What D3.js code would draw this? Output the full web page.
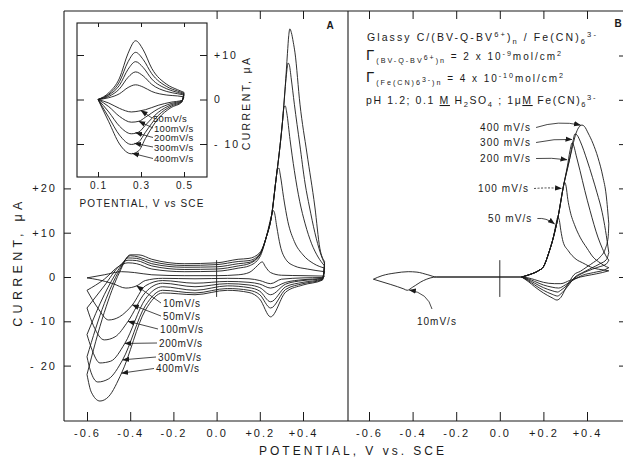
<!DOCTYPE html>
<html>
<head>
<meta charset="utf-8">
<script src="https://cdn.jsdelivr.net/npm/d3@7"></script>
<style>
  body { margin: 0; background: #fff; }
  text { font-family: "Liberation Sans", Arial, sans-serif; fill: #1a1a1a; }
</style>
</head>
<body>
<svg id="chart" width="623" height="458"></svg>
<script>
// ---- data: [potential V, current uA] ----
const ratesA = ["10mV/s", "50mV/s", "100mV/s", "200mV/s", "300mV/s", "400mV/s"];
const anodicA = [
  [[-0.6,-0.2],[-0.52,0.5],[-0.44,1.2],[-0.38,1.0],[-0.3,0.5],[-0.15,0.3],[0.0,0.3],[0.1,0.5],[0.15,1.0],[0.19,2.6],[0.205,3.3],[0.212,3.4],[0.225,2.4],[0.25,1.0],[0.3,0.4],[0.4,0.3],[0.5,0.2]],
  [[-0.6,-3],[-0.52,-0.5],[-0.45,2.5],[-0.41,3.2],[-0.37,3.0],[-0.3,1.8],[-0.15,1.2],[0.0,1.3],[0.1,2.0],[0.15,2.5],[0.2,4.5],[0.23,9],[0.255,14],[0.262,15],[0.268,14.5],[0.278,11.5],[0.295,7],[0.32,4],[0.36,2.5],[0.42,1.8],[0.5,1.2]],
  [[-0.6,-7],[-0.52,-2],[-0.45,2.5],[-0.41,3.8],[-0.37,3.7],[-0.3,2.5],[-0.15,1.7],[0.0,1.8],[0.1,2.5],[0.15,3],[0.2,5],[0.23,9],[0.255,14],[0.275,22],[0.282,24.4],[0.288,24.6],[0.295,23],[0.31,18],[0.33,12.5],[0.36,8],[0.4,5],[0.45,3],[0.5,2]],
  [[-0.6,-13],[-0.52,-4],[-0.45,2],[-0.41,4.3],[-0.37,4.2],[-0.3,3],[-0.15,2.2],[0.0,2.3],[0.1,3],[0.15,3.3],[0.2,5],[0.23,9],[0.255,14],[0.275,22],[0.29,28],[0.305,35],[0.312,38.3],[0.318,38.6],[0.325,37],[0.34,31],[0.36,24],[0.385,17],[0.41,12],[0.44,7.5],[0.47,4.5],[0.5,2.5]],
  [[-0.6,-18],[-0.52,-6],[-0.45,1.5],[-0.4,4.8],[-0.36,4.5],[-0.3,3.5],[-0.15,2.6],[0.0,2.8],[0.1,3.5],[0.15,3.7],[0.2,5.2],[0.23,9],[0.255,14],[0.275,22],[0.29,28],[0.305,35],[0.318,43],[0.325,46.5],[0.331,48.3],[0.337,47.8],[0.345,45],[0.36,39],[0.385,30],[0.41,21],[0.43,15.8],[0.455,10],[0.48,5.5],[0.5,3]],
  [[-0.6,-22],[-0.52,-8],[-0.45,1],[-0.4,5],[-0.36,5],[-0.3,4],[-0.15,3],[0.0,3.2],[0.1,4],[0.15,4.2],[0.2,5.5],[0.23,9],[0.255,14],[0.275,22],[0.29,28],[0.305,35],[0.318,43],[0.328,50.5],[0.334,54.5],[0.339,56],[0.346,55.2],[0.355,53],[0.363,50.6],[0.386,39],[0.418,28],[0.455,15.8],[0.478,6.5],[0.5,3.5]]
];
const cathodicA = [
  [[0.5,0.2],[0.49,-0.1],[0.4,-0.2],[0.3,-0.5],[0.25,-1.5],[0.2,-0.8],[0.15,-0.4],[0.05,-0.3],[-0.1,-0.4],[-0.25,-0.3],[-0.33,-0.8],[-0.37,-2.0],[-0.42,-2.5],[-0.48,-1.5],[-0.55,-0.6],[-0.6,-0.2]],
  [[0.5,1.2],[0.49,-0.3],[0.4,-0.6],[0.32,-1.2],[0.25,-2.5],[0.2,-1.6],[0.15,-1.2],[0.05,-1],[-0.1,-1.4],[-0.25,-0.8],[-0.33,-2],[-0.39,-6.3],[-0.45,-9],[-0.5,-9.7],[-0.55,-7],[-0.6,-3]],
  [[0.5,2],[0.49,-0.4],[0.4,-0.8],[0.32,-1.6],[0.25,-4],[0.2,-2.4],[0.15,-1.8],[0.05,-1.5],[-0.1,-2.2],[-0.25,-1.4],[-0.33,-3.5],[-0.41,-10],[-0.47,-13.5],[-0.52,-14.2],[-0.57,-11],[-0.6,-7]],
  [[0.5,2.5],[0.49,-0.5],[0.4,-1.2],[0.32,-2.2],[0.25,-5.6],[0.2,-3.2],[0.15,-2.4],[0.05,-2],[-0.1,-3],[-0.25,-2.2],[-0.33,-5],[-0.425,-15],[-0.49,-19],[-0.54,-19.4],[-0.58,-16],[-0.6,-13]],
  [[0.5,3],[0.49,-0.6],[0.4,-1.5],[0.32,-2.8],[0.25,-7],[0.2,-4],[0.15,-3],[0.05,-2.6],[-0.1,-3.6],[-0.25,-3],[-0.33,-6.5],[-0.435,-18.7],[-0.5,-23],[-0.55,-23.7],[-0.585,-21],[-0.6,-18]],
  [[0.5,3.5],[0.49,-0.7],[0.4,-1.8],[0.32,-3.4],[0.25,-9],[0.2,-5],[0.15,-3.5],[0.05,-3],[-0.1,-4],[-0.25,-3.6],[-0.33,-7.5],[-0.44,-21.7],[-0.5,-27],[-0.54,-28],[-0.58,-26],[-0.6,-22]]
];
const arrowVA = [-0.37, -0.39, -0.41, -0.425, -0.435, -0.44];

const ratesInset = ["50mV/s", "100mV/s", "200mV/s", "300mV/s", "400mV/s"];
const anodicInset = [
  [[0.1,0],[0.15,0.4],[0.2,1.3],[0.24,2.7],[0.275,3.3],[0.31,2.8],[0.35,1.8],[0.42,1],[0.47,0.8],[0.5,0.6]],
  [[0.1,0],[0.15,0.7],[0.2,2.4],[0.24,5],[0.275,6.2],[0.31,5.3],[0.35,3.4],[0.42,1.8],[0.47,1.3],[0.5,1]],
  [[0.1,0],[0.15,1],[0.2,3.2],[0.24,6.8],[0.275,8.5],[0.31,7.2],[0.35,4.6],[0.42,2.4],[0.47,1.6],[0.5,1.2]],
  [[0.1,0],[0.15,1.2],[0.2,4],[0.24,8.5],[0.275,10.6],[0.31,9],[0.35,5.8],[0.42,2.9],[0.47,1.9],[0.5,1.4]],
  [[0.1,0],[0.15,1.5],[0.2,4.8],[0.24,10.4],[0.275,13.2],[0.31,11.2],[0.35,7],[0.42,3.4],[0.47,2.2],[0.5,1.6]]
];
const cathodicInset = [
  [[0.5,0.6],[0.49,-0.2],[0.44,-0.6],[0.38,-1.3],[0.32,-2.3],[0.29,-2.6],[0.255,-2.8],[0.2,-2],[0.15,-0.8],[0.1,0]],
  [[0.5,1],[0.49,-0.3],[0.44,-0.9],[0.38,-2.1],[0.32,-4],[0.29,-4.9],[0.255,-5.1],[0.2,-3.8],[0.15,-1.6],[0.1,0]],
  [[0.5,1.2],[0.49,-0.4],[0.44,-1.2],[0.38,-2.9],[0.32,-5.8],[0.29,-7.3],[0.255,-7.7],[0.2,-6],[0.15,-2.8],[0.1,0]],
  [[0.5,1.4],[0.49,-0.5],[0.44,-1.5],[0.38,-3.6],[0.32,-7.4],[0.29,-9.5],[0.255,-10.1],[0.2,-8],[0.15,-4],[0.1,0]],
  [[0.5,1.6],[0.49,-0.6],[0.44,-1.8],[0.38,-4.3],[0.32,-8.8],[0.29,-11.5],[0.255,-12.2],[0.2,-10],[0.15,-5],[0.1,0]]
];
const arrowVInset = [0.30, 0.29, 0.275, 0.27, 0.26];

const ratesB = ["50 mV/s", "100 mV/s", "200 mV/s", "300 mV/s", "400 mV/s"];
const slowB = [[-0.58,-0.5],[-0.54,0.3],[-0.48,0.9],[-0.42,1.2],[-0.38,1.1],[-0.33,0.5],[-0.29,0],[0.1,0]];
const slowBback = [[0.1,0],[-0.29,0],[-0.35,-0.8],[-0.4,-2.3],[-0.425,-3],[-0.44,-2.7],[-0.5,-1.7],[-0.58,-0.5]];
const anodicB = [
  [[0.1,0],[0.14,0.6],[0.18,1.5],[0.2,2.3],[0.225,5.5],[0.246,9],[0.258,12],[0.266,13.5],[0.273,12.8],[0.28,10.5],[0.29,8],[0.313,6],[0.35,4],[0.38,3.2],[0.43,2],[0.475,1.6],[0.5,1.4]],
  [[0.1,0],[0.14,0.6],[0.18,1.5],[0.2,2.3],[0.225,5.5],[0.246,9],[0.267,13.5],[0.28,17],[0.29,20],[0.297,21.4],[0.304,20.5],[0.312,17.5],[0.322,15],[0.345,11.5],[0.368,9],[0.4,6.5],[0.428,4.5],[0.46,3.2],[0.49,2.3],[0.5,2.1]],
  [[0.1,0],[0.14,0.6],[0.18,1.5],[0.2,2.3],[0.225,5.5],[0.246,9],[0.267,13.5],[0.29,20],[0.31,25],[0.322,28.5],[0.332,30.3],[0.34,29.5],[0.35,27.5],[0.368,24],[0.39,19.5],[0.414,15],[0.45,9],[0.47,6.5],[0.49,4.5],[0.5,3.8]],
  [[0.1,0],[0.14,0.6],[0.18,1.5],[0.2,2.3],[0.225,5.5],[0.246,9],[0.267,13.5],[0.29,20],[0.322,27],[0.335,30.5],[0.345,32.3],[0.355,32],[0.37,30.5],[0.4,26.4],[0.425,22.5],[0.446,19],[0.47,14.5],[0.485,10.5],[0.5,5.5]],
  [[0.1,0],[0.14,0.6],[0.18,1.5],[0.2,2.3],[0.225,5.5],[0.246,9],[0.267,13.5],[0.29,20],[0.322,27],[0.354,33],[0.368,34.1],[0.377,34.3],[0.388,34],[0.405,32.5],[0.427,30.2],[0.45,27],[0.473,22.6],[0.488,18.5],[0.5,12]]
];
const cathodicB = [
  [[0.5,1.4],[0.47,1],[0.42,0.5],[0.37,0],[0.32,-0.8],[0.28,-1.5],[0.25,-1.5],[0.2,-1.2],[0.16,-0.6],[0.13,-0.2],[0.1,0]],
  [[0.5,2.1],[0.48,1.6],[0.43,1],[0.38,0.4],[0.34,-0.6],[0.3,-1.8],[0.27,-2.5],[0.24,-2.3],[0.2,-1.8],[0.16,-1],[0.13,-0.4],[0.1,0]],
  [[0.5,3.8],[0.49,3],[0.45,2.2],[0.4,1.3],[0.35,0],[0.31,-1.8],[0.28,-3],[0.265,-3.4],[0.24,-3.1],[0.2,-2.4],[0.16,-1.4],[0.13,-0.6],[0.1,0]],
  [[0.5,5.5],[0.49,4],[0.46,3],[0.42,2],[0.38,1],[0.345,0],[0.31,-2.2],[0.28,-3.8],[0.265,-4.3],[0.24,-3.9],[0.2,-3],[0.16,-1.8],[0.13,-0.8],[0.1,0]],
  [[0.5,12],[0.497,9],[0.485,6.5],[0.46,4.5],[0.43,3.3],[0.4,2.3],[0.37,1.3],[0.34,0.5],[0.32,-1],[0.3,-2.8],[0.28,-4.6],[0.262,-5.2],[0.24,-4.7],[0.2,-3.6],[0.16,-2.2],[0.13,-1],[0.1,0]]
];
const arrowVB = [0.258, 0.29, 0.315, 0.338, 0.377];

const ticksX = [-0.6, -0.4, -0.2, 0.0, 0.2, 0.4];
const ticksY = [-20, -10, 0, 10, 20];
const ticksYRight = [-20, -10, 0, 10, 20, 30, 40, 50];
const ticksInsetX = [0.1, 0.3, 0.5];
const ticksInsetY = [-10, 0, 10];
const zeroMark = [-4.5, 3.8];

// ---- scales ----
const xA = d3.scaleLinear().domain([-0.6, 0.4]).range([87, 303]);
const xB = d3.scaleLinear().domain([-0.6, 0.4]).range([369, 587]);
const y = d3.scaleLinear().domain([0, 10]).range([277, 232.7]);
const xI = d3.scaleLinear().domain([0.1, 0.5]).range([98, 184]);
const yI = d3.scaleLinear().domain([0, 10]).range([99.5, 55]);

const svg = d3.select("#chart");
const ink = "#1a1a1a";

const defs = svg.append("defs");
defs.append("marker").attr("id", "tri")
  .attr("viewBox", "0 -3 7 6").attr("refX", 6.5).attr("refY", 0)
  .attr("markerWidth", 7).attr("markerHeight", 6)
  .attr("markerUnits", "userSpaceOnUse").attr("orient", "auto")
  .append("path").attr("d", "M0,-2.6L7,0L0,2.6Z").attr("fill", ink);

function sorted(pts) { return pts.slice().sort((p, q) => p[0] - q[0]); }
function valueAt(pts, v) {
  const s = sorted(pts);
  for (let i = 1; i < s.length; i++) {
    if (v <= s[i][0]) {
      const t = (v - s[i-1][0]) / (s[i][0] - s[i-1][0]);
      return s[i-1][1] + t * (s[i][1] - s[i-1][1]);
    }
  }
  return s[s.length - 1][1];
}
function drawBranch(g, pts, sx, sy) {
  const line = d3.line().x(d => sx(d[0])).y(d => sy(d[1])).curve(d3.curveMonotoneX);
  g.append("path").attr("d", line(sorted(pts)))
    .attr("fill", "none").attr("stroke", ink).attr("stroke-width", 0.9);
}
function styleAxis(g, size) {
  g.select(".domain").remove();
  g.selectAll("line").attr("stroke", ink).attr("stroke-width", 1);
  g.selectAll("text").attr("font-family", '"Liberation Sans", Arial, sans-serif')
    .attr("font-size", size).attr("letter-spacing", size > 10 ? 2 : 1).attr("fill", ink);
}
// spread a text line to a given width, like the wide lettering of the original
function fitWidth(t, width) {
  t.attr("letter-spacing", 0);
  const n = t.text().length;
  const w = t.node().getComputedTextLength();
  t.attr("letter-spacing", Math.max(0, (width - w) / n));
}
const fmtX = v => v > 0 ? "+" + v.toFixed(1) : v < 0 ? "-" + (-v).toFixed(1) : "0.0";
const fmtY = v => v > 0 ? "+" + v : v < 0 ? "- " + (-v) : "0";

// ---- frame ----
const frame = svg.append("g").attr("stroke", ink).attr("stroke-width", 1.1);
frame.append("line").attr("x1", 64).attr("x2", 623).attr("y1", 11).attr("y2", 11);
frame.append("line").attr("x1", 64).attr("x2", 623).attr("y1", 421).attr("y2", 421);
frame.append("line").attr("x1", 64).attr("x2", 64).attr("y1", 11).attr("y2", 421);
frame.append("line").attr("x1", 348).attr("x2", 348).attr("y1", 11).attr("y2", 421);

// bottom axes
svg.append("g").attr("transform", "translate(0,421)")
  .call(d3.axisBottom(xA).tickValues(ticksX).tickSize(-9).tickPadding(8).tickFormat(fmtX))
  .call(g => styleAxis(g, 11));
svg.append("g").attr("transform", "translate(0,421)")
  .call(d3.axisBottom(xB).tickValues(ticksX).tickSize(-9).tickPadding(8).tickFormat(fmtX))
  .call(g => styleAxis(g, 11));
// top ticks
svg.append("g").attr("transform", "translate(0,11)")
  .call(d3.axisTop(xA).tickValues([0, 0.2, 0.4]).tickSize(-8).tickFormat(""))
  .call(g => styleAxis(g, 11));
svg.append("g").attr("transform", "translate(0,11)")
  .call(d3.axisTop(xB).tickValues(ticksX).tickSize(-8).tickFormat(""))
  .call(g => styleAxis(g, 11));
// left axis
svg.append("g").attr("transform", "translate(64,0)")
  .call(d3.axisLeft(y).tickValues(ticksY).tickSize(-7).tickPadding(7).tickFormat(fmtY))
  .call(g => styleAxis(g, 11));
// right ticks of panel B
svg.append("g").attr("transform", "translate(623,0)")
  .call(d3.axisLeft(y).tickValues(ticksYRight).tickSize(4).tickFormat(""))
  .call(g => styleAxis(g, 11));

// axis titles
svg.append("text").attr("transform", "translate(22,262) rotate(-90)")
  .attr("text-anchor", "middle").attr("font-size", 12.5).attr("letter-spacing", 4.3)
  .text("CURRENT, μA");
svg.append("text").attr("x", 353).attr("y", 455)
  .attr("text-anchor", "middle").attr("font-size", 12).attr("letter-spacing", 3)
  .text("POTENTIAL, V vs. SCE");

// ---- panel A ----
const gA = svg.append("g");
anodicA.forEach(pts => drawBranch(gA, pts, xA, y));
cathodicA.forEach(pts => drawBranch(gA, pts, xA, y));
gA.append("line").attr("x1", xA(0)).attr("x2", xA(0))
  .attr("y1", y(zeroMark[0])).attr("y2", y(zeroMark[1]))
  .attr("stroke", ink).attr("stroke-width", 0.9);

const labelA = [[163, 306.5], [163, 319.5], [160, 332.5], [159, 346.5], [158, 360.5], [156, 372]];
ratesA.forEach((r, i) => {
  const [lx, ly] = labelA[i];
  gA.append("text").attr("x", lx).attr("y", ly).attr("font-size", 10).attr("letter-spacing", 0.6).text(r);
  const tv = arrowVA[i];
  gA.append("line").attr("x1", lx - 2).attr("y1", ly - 3.5)
    .attr("x2", xA(tv)).attr("y2", y(valueAt(cathodicA[i], tv)))
    .attr("stroke", ink).attr("stroke-width", 0.8).attr("marker-end", "url(#tri)");
});
svg.append("text").attr("x", 330).attr("y", 29).attr("text-anchor", "middle")
  .attr("font-family", '"Liberation Serif", "DejaVu Serif", serif').attr("font-weight", "bold")
  .attr("font-size", 10).text("A");

// ---- inset ----
const gI = svg.append("g");
gI.append("rect").attr("x", 77).attr("y", 23).attr("width", 130).attr("height", 154)
  .attr("fill", "#fff").attr("stroke", ink).attr("stroke-width", 1.1);
gI.append("g").attr("transform", "translate(0,177)")
  .call(d3.axisBottom(xI).tickValues(ticksInsetX).tickSize(-5).tickPadding(5).tickFormat(d3.format(".1f")))
  .call(g => styleAxis(g, 10));
gI.append("g").attr("transform", "translate(0,23)")
  .call(d3.axisTop(xI).tickValues(ticksInsetX).tickSize(-4).tickFormat(""))
  .call(g => styleAxis(g, 10));
gI.append("g").attr("transform", "translate(77,0)")
  .call(d3.axisLeft(yI).tickValues(ticksInsetY).tickSize(-7).tickFormat(""))
  .call(g => styleAxis(g, 10));
gI.append("g").attr("transform", "translate(207,0)")
  .call(d3.axisRight(yI).tickValues(ticksInsetY).tickSize(-7).tickPadding(7).tickFormat(fmtY))
  .call(g => styleAxis(g, 10.5));
anodicInset.forEach(pts => drawBranch(gI, pts, xI, yI));
cathodicInset.forEach(pts => drawBranch(gI, pts, xI, yI));
const labelI = [[153, 121.5], [154, 131.5], [154, 141], [154, 150.5], [154, 162]];
ratesInset.forEach((r, i) => {
  const [lx, ly] = labelI[i];
  gI.append("text").attr("x", lx).attr("y", ly).attr("font-size", 9.5).attr("letter-spacing", 0.3).text(r);
  const tv = arrowVInset[i];
  gI.append("line").attr("x1", lx - 1).attr("y1", ly - 3.5)
    .attr("x2", xI(tv)).attr("y2", yI(valueAt(cathodicInset[i], tv)))
    .attr("stroke", ink).attr("stroke-width", 0.8).attr("marker-end", "url(#tri)");
});
gI.append("text").attr("transform", "translate(250,103) rotate(-90)")
  .attr("text-anchor", "middle").attr("font-size", 10.5).attr("letter-spacing", 2.3)
  .text("CURRENT, μA");
gI.append("text").attr("x", 142).attr("y", 207).attr("text-anchor", "middle")
  .attr("font-size", 10).attr("letter-spacing", 1.1).text("POTENTIAL, V vs SCE");

// ---- panel B ----
const gB = svg.append("g");
drawBranch(gB, slowB, xB, y);
drawBranch(gB, slowBback, xB, y);
anodicB.forEach(pts => drawBranch(gB, pts, xB, y));
cathodicB.forEach(pts => drawBranch(gB, pts, xB, y));
gB.append("line").attr("x1", xB(0)).attr("x2", xB(0))
  .attr("y1", y(zeroMark[0])).attr("y2", y(zeroMark[1]))
  .attr("stroke", ink).attr("stroke-width", 0.9);

const labelB = [[488, 222], [478, 192], [480, 162], [480, 146], [480, 131]];
ratesB.forEach((r, i) => {
  const [lx, ly] = labelB[i];
  const t = gB.append("text").attr("x", lx).attr("y", ly).attr("font-size", 10).attr("letter-spacing", 1.1).text(r);
  const w = t.node().getComputedTextLength();
  const tv = arrowVB[i];
  const tx = xB(tv) - 1.5, ty = y(valueAt(anodicB[i], tv));
  const sx = lx + w + 5, sy = ly - 3.5;
  const mx = (sx + tx) / 2, my = Math.min(sy, ty) - (i === 4 ? 5 : 1);
  gB.append("path").attr("d", `M${sx},${sy}Q${mx},${my} ${tx},${ty}`)
    .attr("fill", "none").attr("stroke", ink).attr("stroke-width", 0.8)
    .attr("stroke-dasharray", i === 1 ? "2,1.5" : null)
    .attr("marker-end", "url(#tri)");
});
gB.append("text").attr("x", 417).attr("y", 325).attr("font-size", 10).attr("letter-spacing", 1).text("10mV/s");
{
  const tv = -0.415, tx = xB(tv), ty = y(valueAt(slowBback, tv)) + 1;
  gB.append("path").attr("d", `M432,309Q428,293 ${tx},${ty}`)
    .attr("fill", "none").attr("stroke", ink).attr("stroke-width", 0.8).attr("marker-end", "url(#tri)");
}

// header text in panel B
function rich(g, x, yy, size, parts) {
  const t = g.append("text").attr("x", x).attr("y", yy).attr("font-size", size);
  let cur = 0;
  parts.forEach(([s, k, extra]) => {
    const off = k === 1 ? -size * 0.42 : k === -1 ? size * 0.32 : 0;
    const ts = t.append("tspan").attr("dy", off - cur)
      .attr("font-size", extra && extra.size ? extra.size : (k ? size * 0.72 : size)).text(s);
    if (extra && extra.u) ts.attr("text-decoration", "underline");
    cur = off;
  });
  return t;
}
fitWidth(rich(gB, 367, 41, 10.5, [["Glassy C/(BV-Q-BV", 0], ["6+", 1], [")", 0], ["n", -1], [" / Fe(CN)", 0], ["6", -1], ["3-", 1]]), 231);
fitWidth(rich(gB, 366, 60, 10, [["Γ", 0, {size: 15}], ["(BV-Q-BV", -1], ["6+", 0, {size: 7}], [")", -1], ["n", -1], [" = 2 x 10", 0], ["-9", 1], ["mol/cm", 0], ["2", 1]]), 197);
fitWidth(rich(gB, 366, 82, 10, [["Γ", 0, {size: 15}], ["(Fe(CN)", -1], ["6", -1], ["3-", 0, {size: 7}], [")", -1], ["n", -1], [" = 4 x 10", 0], ["-10", 1], ["mol/cm", 0], ["2", 1]]), 199);
fitWidth(rich(gB, 366, 104, 10.5, [["pH 1.2; 0.1 ", 0], ["M", 0, {u: true, size: 10.5}], [" H", 0], ["2", -1], ["SO", 0], ["4", -1], [" ; 1μ", 0], ["M", 0, {u: true, size: 10.5}], [" Fe(CN)", 0], ["6", -1], ["3-", 1]]), 231);

svg.append("text").attr("x", 618).attr("y", 27).attr("text-anchor", "middle")
  .attr("font-family", '"Liberation Serif", "DejaVu Serif", serif').attr("font-weight", "bold")
  .attr("font-size", 10).text("B");
</script>
</body>
</html>
